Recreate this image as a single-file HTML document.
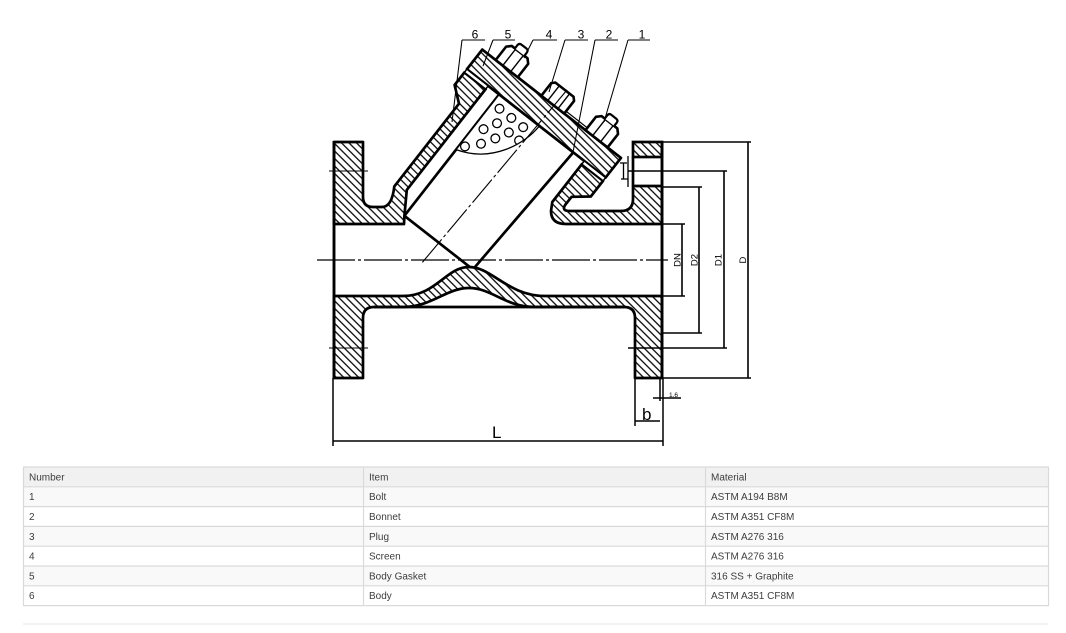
<!DOCTYPE html>
<html>
<head>
<meta charset="utf-8">
<style>
  html,body{margin:0;padding:0;background:#fff;}
  svg{display:block;}
  text{font-family:"Liberation Sans", sans-serif;}
</style>
</head>
<body>
<svg width="1066" height="633" viewBox="0 0 1066 633" xmlns="http://www.w3.org/2000/svg">
  <defs>
    <pattern id="hg" patternUnits="userSpaceOnUse" width="5.3" height="10" patternTransform="rotate(-45)">
      <rect width="5.3" height="10" fill="#fff"/>
      <line x1="2.65" y1="-1" x2="2.65" y2="11" stroke="#000" stroke-width="1.25"/>
    </pattern>
    <pattern id="hl" patternUnits="userSpaceOnUse" width="5.3" height="10" patternTransform="rotate(-83)">
      <rect width="5.3" height="10" fill="#fff"/>
      <line x1="2.65" y1="-1" x2="2.65" y2="11" stroke="#000" stroke-width="1.25"/>
    </pattern>
    <clipPath id="pc">
      <path d="M-47,-2 L4,-2 C4,20 -10,56 -47,68 Z"/>
    </clipPath>
  </defs>

  <rect width="1066" height="633" fill="#fff"/>

  <!-- Screen -->
  <g transform="translate(535,125) rotate(38)">
    <polygon points="-47,-2 47,-2 40,152 -47,152" fill="none" stroke="#000" stroke-width="2.7" stroke-linejoin="round"/>
    <path d="M-47,-2 L4,-2 C4,20 -10,56 -47,68 Z" fill="#fff" stroke="#000" stroke-width="1.3"/>
    <g clip-path="url(#pc)" fill="none" stroke="#000" stroke-width="1.3">
      <circle cx="-38" cy="9" r="4.4"/>
      <circle cx="-23" cy="9" r="4.4"/>
      <circle cx="-8" cy="9" r="4.4"/>
      <circle cx="-31" cy="22" r="4.4"/>
      <circle cx="-16" cy="22" r="4.4"/>
      <circle cx="-3" cy="22" r="4.4"/>
      <circle cx="-38" cy="35" r="4.4"/>
      <circle cx="-23" cy="35" r="4.4"/>
      <circle cx="-31" cy="48" r="4.4"/>
      <circle cx="-42" cy="60" r="4.4"/>
    </g>
  </g>

  <!-- Bottom body -->
  <path d="M334,296 L403,296 C436,296 446,267 469,267 C492,267 508,296 545,296 L662,296 L662,378 L635,378 L635,318 Q635,307 624,307 L535,307 C505,307 492,288 469,288 C446,288 432,307 403,307 L374,307 Q363,307 363,318 L363,378 L334,378 Z"
        fill="url(#hg)" stroke="#000" stroke-width="2.7" stroke-linejoin="round"/>
  <line x1="374" y1="307" x2="624" y2="307" stroke="#000" stroke-width="2.7"/>

  <!-- Upper left body + neck -->
  <path d="M334,142 L363,142 L363,197 Q363,207 373,207 L382,207 Q392,207 394.3,186.4 L459,103.7 L454.6,85 L464.4,72.4 L485.7,89 L406.8,189.9 L404.4,215.8 L404,224 L334,224 Z"
        fill="url(#hg)" stroke="#000" stroke-width="2.7" stroke-linejoin="round"/>

  <!-- Upper right body + hook -->
  <path d="M662,224 L566,224 Q551,224 551,211 L552.3,202 L581.8,164.2 L603.1,180.8 L590.8,196.5 L571.6,196.8 L565.4,204.6 Q561,211 570,211 L621,211 Q633,211 633,199 L633,186 L662,186 Z"
        fill="url(#hg)" stroke="#000" stroke-width="2.7" stroke-linejoin="round"/>

  <!-- Right flange top block and bolt hole -->
  <rect x="633" y="142" width="29" height="15" fill="url(#hg)" stroke="#000" stroke-width="2.7"/>
  <line x1="633" y1="157" x2="633" y2="186" stroke="#000" stroke-width="2.7"/>

  <!-- Flange faces -->
  <line x1="334" y1="141" x2="334" y2="379" stroke="#000" stroke-width="2.9"/>
  <line x1="662" y1="141" x2="662" y2="379" stroke="#000" stroke-width="2.9"/>

  <!-- Bonnet, gasket, nuts, plug -->
  <g transform="translate(535,125) rotate(38)" stroke="#000" stroke-linejoin="round">
    <rect x="-88" y="-27" width="176" height="25" fill="url(#hl)" stroke-width="2.7"/>
    <rect x="-88" y="-2" width="27" height="4" fill="#fff" stroke-width="1.5"/>
    <rect x="61" y="-2" width="27" height="4" fill="#fff" stroke-width="1.5"/>
    <line x1="-12" y1="-30" x2="44" y2="-30" stroke-width="1.2"/>

    <!-- left nut -->
    <path d="M-71,-27 L-71,-44 L-67,-48 L-47,-48 L-43,-44 L-43,-27 Z" fill="#fff" stroke-width="2.6"/>
    <line x1="-62" y1="-27" x2="-62" y2="-48" stroke-width="1.4"/>
    <line x1="-52" y1="-27" x2="-52" y2="-48" stroke-width="1.4"/>
    <path d="M-63,-48 L-63,-52 Q-63,-55 -60,-55 L-54,-55 Q-51,-55 -51,-52 L-51,-48" fill="#fff" stroke-width="2.2"/>

    <!-- plug -->
    <path d="M-13,-27 L-13,-43 L-10,-46 L13,-46 L16,-43 L16,-27 Z" fill="#fff" stroke-width="2.6"/>
    <line x1="-5" y1="-27" x2="-5" y2="-46" stroke-width="1.4"/>
    <line x1="8" y1="-27" x2="8" y2="-46" stroke-width="1.4"/>

    <!-- right nut -->
    <path d="M43,-27 L43,-44 L47,-48 L67,-48 L71,-44 L71,-27 Z" fill="#fff" stroke-width="2.6"/>
    <line x1="52" y1="-27" x2="52" y2="-48" stroke-width="1.4"/>
    <line x1="62" y1="-27" x2="62" y2="-48" stroke-width="1.4"/>
    <path d="M51,-48 L51,-52 Q51,-55 54,-55 L60,-55 Q63,-55 63,-52 L63,-48" fill="#fff" stroke-width="2.2"/>
  </g>

  <!-- small symbol near right flange -->
  <g stroke="#000" stroke-width="1.3" fill="none">
    <path d="M620,163 H627 M623.5,163 V179 M621,179 H628 M628,156 V187"/>
  </g>

  <!-- Leaders -->
  <g stroke="#000" stroke-width="1.05" fill="none">
    <path d="M462,40 H485 M462,40 L452,122"/>
    <path d="M493,40 H515 M493,40 L483,66"/>
    <path d="M533,40 H557 M533,40 L524,58"/>
    <path d="M565,40 H588 M565,40 L549,92"/>
    <path d="M595,40 H618 M595,40 L573,152"/>
    <path d="M628,40 H650 M628,40 L604,122"/>
  </g>
  <g font-size="12" text-anchor="middle" fill="#000">
    <text x="475" y="38.5">6</text>
    <text x="508" y="38.5">5</text>
    <text x="549" y="38.5">4</text>
    <text x="581" y="38.5">3</text>
    <text x="609" y="38.5">2</text>
    <text x="642" y="38.5">1</text>
  </g>

  <!-- Centerlines -->
  <line x1="317" y1="260" x2="668" y2="260" stroke="#000" stroke-width="1.2" stroke-dasharray="38 3 3 3"/>
  <line x1="567" y1="90" x2="421" y2="264" stroke="#000" stroke-width="1.1" stroke-dasharray="30 3 3 3"/>
  <line x1="329" y1="171" x2="368" y2="171" stroke="#000" stroke-width="1.1"/>
  <line x1="329" y1="348" x2="368" y2="348" stroke="#000" stroke-width="1.1"/>

  <!-- Right dimensions -->
  <g stroke="#000" stroke-width="1.6" fill="none">
    <path d="M662,142 H751 M748,142 V378 M662,378 H751"/>
    <path d="M628,171 H727 M724,171 V348 M628,348 H727"/>
    <path d="M662,187 H702 M699,187 V333 M662,333 H702"/>
    <path d="M662,224 H685 M682,224 V296 M662,296 H685"/>
  </g>
  <g font-size="9.5" text-anchor="middle" fill="#000">
    <text transform="translate(680.5,260) rotate(-90)">DN</text>
    <text transform="translate(697.5,260) rotate(-90)">D2</text>
    <text transform="translate(721.5,260) rotate(-90)">D1</text>
    <text transform="translate(746,260) rotate(-90)">D</text>
  </g>

  <!-- Bottom dimensions -->
  <g stroke="#000" stroke-width="1.5" fill="none">
    <path d="M333,378 V446 M663,378 V446 M333,441 H663"/>
    <path d="M635,378 V426 M635,421 H660"/>
    <path d="M660,378 V401 M653,398 H681"/>
  </g>
  <text x="669" y="397" font-size="6.5" fill="#000">1.6</text>
  <text x="642" y="420" font-size="17" fill="#000">b</text>
  <text x="492" y="438" font-size="17" fill="#000">L</text>

  <!-- Table -->
  <rect x="23.5" y="467" width="1025" height="19.8" fill="#f1f1f1"/>
  <rect x="23.5" y="486.8" width="1025" height="19.8" fill="#f9f9f9"/>
  <rect x="23.5" y="526.4" width="1025" height="19.8" fill="#f9f9f9"/>
  <rect x="23.5" y="566" width="1025" height="19.8" fill="#f9f9f9"/>
  <g stroke="#dadada" stroke-width="1.2">
    <line x1="23" y1="467" x2="1049" y2="467"/>
    <line x1="23" y1="486.8" x2="1049" y2="486.8"/>
    <line x1="23" y1="506.6" x2="1049" y2="506.6"/>
    <line x1="23" y1="526.4" x2="1049" y2="526.4"/>
    <line x1="23" y1="546.2" x2="1049" y2="546.2"/>
    <line x1="23" y1="566" x2="1049" y2="566"/>
    <line x1="23" y1="585.8" x2="1049" y2="585.8"/>
    <line x1="23" y1="605.6" x2="1049" y2="605.6"/>
    <line x1="23.5" y1="467" x2="23.5" y2="605.6"/>
    <line x1="363.5" y1="467" x2="363.5" y2="605.6"/>
    <line x1="705.5" y1="467" x2="705.5" y2="605.6"/>
    <line x1="1048.5" y1="467" x2="1048.5" y2="605.6"/>
  </g>
  <g font-size="10" fill="#3d3d3d">
    <text x="29" y="480.4">Number</text>
    <text x="369" y="480.4">Item</text>
    <text x="711" y="480.4">Material</text>

    <text x="29" y="500.2">1</text>
    <text x="369" y="500.2">Bolt</text>
    <text x="711" y="500.2">ASTM A194 B8M</text>

    <text x="29" y="520">2</text>
    <text x="369" y="520">Bonnet</text>
    <text x="711" y="520">ASTM A351 CF8M</text>

    <text x="29" y="539.8">3</text>
    <text x="369" y="539.8">Plug</text>
    <text x="711" y="539.8">ASTM A276 316</text>

    <text x="29" y="559.6">4</text>
    <text x="369" y="559.6">Screen</text>
    <text x="711" y="559.6">ASTM A276 316</text>

    <text x="29" y="579.4">5</text>
    <text x="369" y="579.4">Body Gasket</text>
    <text x="711" y="579.4">316 SS + Graphite</text>

    <text x="29" y="599.2">6</text>
    <text x="369" y="599.2">Body</text>
    <text x="711" y="599.2">ASTM A351 CF8M</text>
  </g>
  <rect x="23" y="623" width="1025" height="2" fill="#f2f2f2"/>
</svg>
</body>
</html>
